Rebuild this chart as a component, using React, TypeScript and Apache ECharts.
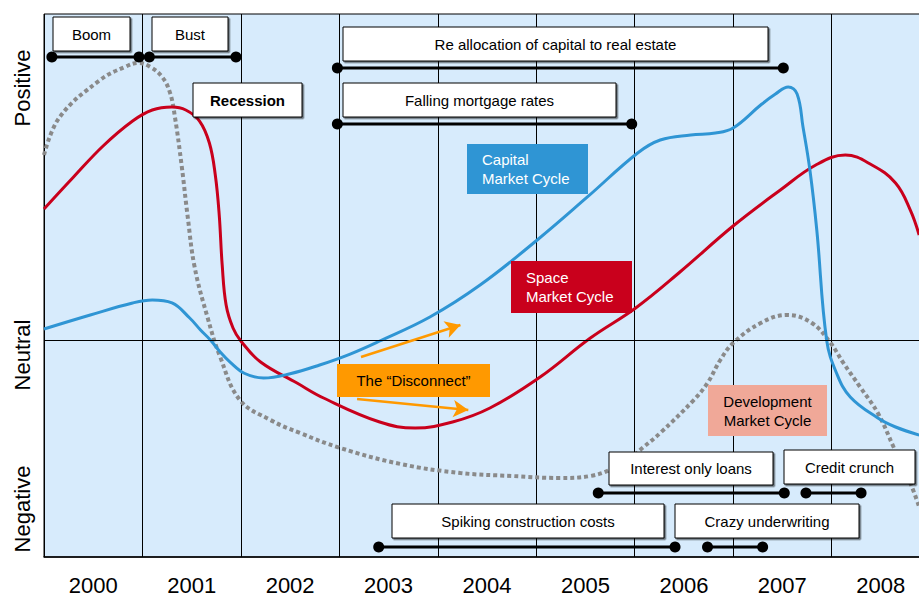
import React, { useEffect, useRef } from "react";
import * as echarts from "echarts";

// x: years elapsed since the start of 2000; y: 0 = most negative, 40 = neutral, 100 = most positive
const YEARS = ["2000", "2001", "2002", "2003", "2004", "2005", "2006", "2007", "2008"];
const NEUTRAL = 40;

const capitalCycle: number[][] = [
  [0, 41.99], [0.47, 44.57], [0.9, 46.78], [1.1, 47.33], [1.3, 46.78], [1.48, 44.01],
  [1.59, 41.8], [1.69, 39.96], [1.79, 37.75], [1.89, 35.91], [2.04, 33.79], [2.23, 32.97],
  [2.5, 33.75], [2.8, 35.36], [3.11, 37.38], [3.41, 39.78], [3.92, 44.2], [4.43, 50.09],
  [5.01, 58.38], [5.52, 66.3], [6.03, 74.4], [6.26, 76.8], [6.57, 77.72], [6.82, 78.08],
  [7.0, 79.01], [7.28, 83.24], [7.43, 85.27], [7.56, 86.56], [7.65, 85.27], [7.71, 79.19],
  [7.78, 71.27], [7.85, 60.22], [7.95, 39.96], [8.05, 33.89], [8.19, 29.47], [8.47, 25.6],
  [8.65, 23.94], [8.89, 22.47],
];

const spaceCycle: number[][] = [
  [0, 64.09], [0.3, 69.98], [0.6, 75.69], [0.9, 80.29], [1.1, 82.32], [1.3, 82.87],
  [1.44, 82.32], [1.58, 80.29], [1.68, 76.24], [1.74, 70.35], [1.78, 62.98], [1.81, 53.78],
  [1.85, 46.41], [1.92, 42.17], [2.0, 39.78], [2.2, 35.91], [2.57, 32.04], [2.84, 29.28],
  [3.41, 24.86], [3.77, 23.76], [4.15, 24.86], [4.53, 27.44], [5.04, 33.15], [5.55, 40.33],
  [6.01, 45.86], [6.46, 52.49], [7.0, 60.96], [7.48, 67.59], [7.84, 72.19], [8.14, 74.03],
  [8.41, 72.19], [8.65, 68.88], [8.8, 63.9], [8.89, 59.3],
];

const developmentCycle: number[][] = [
  [0, 74.03], [0.16, 81.03], [0.57, 87.85], [0.82, 90.24], [0.96, 90.98], [1.08, 90.24],
  [1.2, 88.4], [1.28, 85.5], [1.33, 81.03], [1.4, 71.82], [1.46, 62.62], [1.53, 53.41],
  [1.66, 44.2], [1.79, 36.83], [1.99, 28.91], [2.3, 25.23], [2.6, 22.84], [3.01, 20.07],
  [3.62, 17.13], [4.23, 15.47], [4.75, 14.92], [5.24, 14.55], [5.55, 14.92], [5.9, 17.5],
  [6.09, 20.26], [6.26, 22.84], [6.6, 28.91], [6.74, 32.04], [6.87, 36.28], [7.0, 39.4],
  [7.28, 43.09], [7.55, 44.57], [7.8, 43.09], [7.99, 39.4], [8.12, 35.73], [8.29, 31.31],
  [8.47, 26.52], [8.63, 20.26], [8.8, 13.63], [8.89, 9.21],
];

// Timeline spans of each driver: start year, end year, vertical level
const spanNames = [
  "Boom", "Bust", "Re allocation of capital to real estate", "Falling mortgage rates",
  "Interest only loans", "Credit crunch", "Spiking construction costs", "Crazy underwriting",
];
const spanStart = [0.08, 1.07, 2.98, 2.98, 5.63, 7.74, 3.4, 6.74];
const spanEnd = [0.965, 1.95, 7.51, 5.97, 7.52, 8.3, 6.41, 7.3];
const spanLevel = [92.08, 92.08, 90.06, 79.74, 11.79, 11.79, 1.84, 1.84];

// "Disconnect" arrows: from [x, y] to [x, y]
const arrowFrom: number[][] = [[3.22, 36.83], [3.18, 29.1]];
const arrowTo: number[][] = [[4.23, 42.73], [4.31, 27.07]];

const FONT = "'Liberation Sans', Arial, sans-serif";
const BLUE = "#2f95d4";
const RED = "#c9001c";
const GREY = "#8a8a8a";
const ORANGE = "#ff9900";
const SALMON = "#f0a898";

type Box = {
  text: string; x: number; y: number; w: number; h: number;
  fill?: string; color?: string; bold?: boolean; align?: "left" | "center"; tx?: number;
};

const boxes: Box[] = [
  { text: "Boom", x: 53, y: 17, w: 77, h: 34 },
  { text: "Bust", x: 152, y: 17, w: 76, h: 34 },
  { text: "Recession", x: 193, y: 83, w: 109, h: 34, bold: true },
  { text: "Re allocation of capital to real estate", x: 343, y: 27, w: 425, h: 34 },
  { text: "Falling mortgage rates", x: 343, y: 83, w: 273, h: 34 },
  { text: "Interest only loans", x: 609, y: 452, w: 164, h: 33 },
  { text: "Credit crunch", x: 784, y: 450, w: 131, h: 34 },
  { text: "Spiking construction costs", x: 392, y: 504, w: 272, h: 34 },
  { text: "Crazy underwriting", x: 675, y: 504, w: 184, h: 34 },
  { text: "Capital\nMarket Cycle", x: 467, y: 144, w: 121, h: 50, fill: BLUE, color: "#fff", align: "left", tx: 482 },
  { text: "Space\nMarket Cycle", x: 511, y: 261, w: 121, h: 52, fill: RED, color: "#fff", align: "left", tx: 526 },
  { text: "The \u201cDisconnect\u201d", x: 337, y: 364, w: 153, h: 33, fill: ORANGE, color: "#000" },
  { text: "Development\nMarket Cycle", x: 708, y: 385, w: 119, h: 51, fill: SALMON, color: "#000" },
];

const sideLabels = [
  { text: "Positive", y: 88 },
  { text: "Neutral", y: 355 },
  { text: "Negative", y: 509 },
];

function buildOption() {
  const curve = (name: string, data: number[][], color: string, dotted = false) => ({
    name,
    type: "line",
    xAxisIndex: 0,
    data,
    smooth: 0.4,
    showSymbol: false,
    symbol: "none",
    lineStyle: dotted
      ? { color, width: 4, type: [4, 3] }
      : { color, width: 3 },
    z: dotted ? 3 : 4,
  });

  const spans = spanNames.map((name, i) => ({
    name,
    type: "line",
    xAxisIndex: 0,
    data: [[spanStart[i], spanLevel[i]], [spanEnd[i], spanLevel[i]]],
    symbol: "circle",
    symbolSize: 11,
    showSymbol: true,
    itemStyle: { color: "#000" },
    lineStyle: { color: "#000", width: 3 },
    z: 5,
  }));

  const graphics: any[] = [];
  boxes.forEach((b) => {
    const white = !b.fill;
    graphics.push({
      type: "rect",
      shape: { x: b.x, y: b.y, width: b.w, height: b.h },
      style: white
        ? {
            fill: "#fff",
            stroke: "#000",
            lineWidth: 1,
            shadowColor: "rgba(0,0,0,0.55)",
            shadowOffsetX: 1.5,
            shadowOffsetY: 1.5,
          }
        : { fill: b.fill },
      z: 20,
    });
    const left = b.align === "left";
    graphics.push({
      type: "text",
      x: left ? (b.tx as number) : b.x + b.w / 2,
      y: b.y + b.h / 2,
      style: {
        text: b.text,
        fill: b.color || "#000",
        font: `${b.bold ? "bold " : ""}15px ${FONT}`,
        align: left ? "left" : "center",
        verticalAlign: "middle",
        lineHeight: 19,
      },
      z: 21,
    });
  });
  sideLabels.forEach((s) => {
    graphics.push({
      type: "text",
      x: 22,
      y: s.y,
      rotation: Math.PI / 2,
      style: {
        text: s.text,
        fill: "#000",
        font: `22px ${FONT}`,
        align: "center",
        verticalAlign: "middle",
      },
      z: 21,
    });
  });

  return {
    animation: false,
    grid: {
      left: 44,
      top: 14,
      right: 0,
      bottom: 44,
      show: true,
      backgroundColor: "#d7ebfc",
      borderColor: "#000",
      borderWidth: 1,
    },
    xAxis: [
      {
        type: "value",
        min: 0,
        max: 9,
        interval: 1,
        axisLine: { show: false },
        axisTick: { show: false },
        axisLabel: { show: false },
        splitLine: { show: true, lineStyle: { color: "#000", width: 1 } },
      },
      {
        type: "category",
        data: YEARS,
        boundaryGap: true,
        position: "bottom",
        axisLine: { show: true, lineStyle: { color: "#000", width: 1.5 } },
        axisTick: { show: false },
        splitLine: { show: false },
        axisLabel: {
          color: "#000",
          fontFamily: FONT,
          fontSize: 22,
          margin: 17,
          verticalAlign: "top",
        },
      },
    ],
    yAxis: {
      type: "value",
      min: 0,
      max: 100,
      axisLine: { show: false },
      axisTick: { show: false },
      axisLabel: { show: false },
      splitLine: { show: false },
    },
    series: [
      {
        ...curve("Development Market Cycle", developmentCycle, GREY, true),
        markLine: {
          silent: true,
          symbol: "none",
          label: { show: false },
          lineStyle: { color: "#000", width: 1, type: "solid" },
          data: [{ yAxis: NEUTRAL }],
        },
      },
      curve("Space Market Cycle", spaceCycle, RED),
      {
        ...curve("Capital Market Cycle", capitalCycle, BLUE),
        markLine: {
          silent: true,
          symbol: ["none", "arrow"],
          symbolSize: [13, 15],
          label: { show: false },
          lineStyle: { color: ORANGE, width: 2.5, type: "solid" },
          data: arrowFrom.map((f, i) => [
            { coord: f },
            { coord: arrowTo[i] },
          ]),
        },
      },
      ...spans,
    ],
    graphic: graphics,
  };
}

export default function App() {
  const ref = useRef<HTMLDivElement>(null);
  useEffect(() => {
    if (!ref.current) return;
    const chart = echarts.init(ref.current, undefined, { renderer: "svg" });
    chart.setOption(buildOption() as any);
    return () => chart.dispose();
  }, []);
  // The plot runs a little past the right edge of the visible frame, as a cropped view
  return (
    <div
      style={{ position: "fixed", left: 0, top: 0, width: 919, height: 601, background: "#fff", overflow: "hidden" }}
    >
      <div ref={ref} style={{ width: 930, height: 601 }} />
    </div>
  );
}
